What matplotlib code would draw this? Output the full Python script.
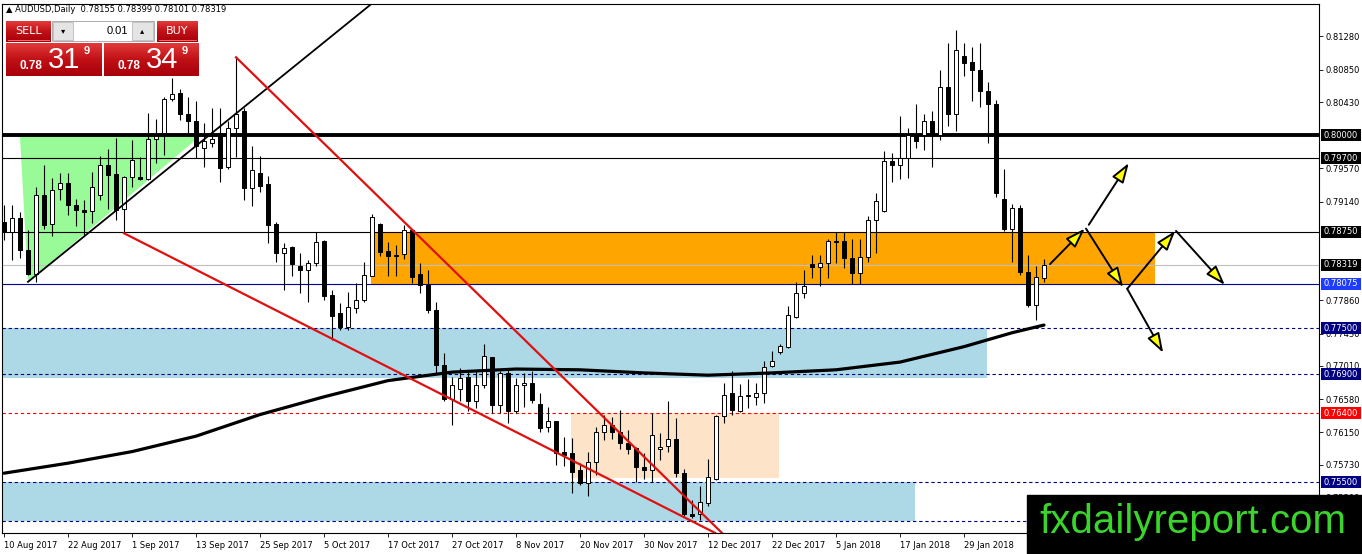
import numpy as np
import matplotlib
matplotlib.use('Agg')
import matplotlib.pyplot as plt
import matplotlib.transforms as mtransforms
from matplotlib.patches import Rectangle, Polygon, FancyArrowPatch
from matplotlib.colors import LinearSegmentedColormap

# AUDUSD diario - velas (ago/2017 a fev/2018)
datas = ['10 Aug 2017', '22 Aug 2017', '1 Sep 2017', '13 Sep 2017', '25 Sep 2017',
         '5 Oct 2017', '17 Oct 2017', '27 Oct 2017', '8 Nov 2017', '20 Nov 2017',
         '30 Nov 2017', '12 Dec 2017', '22 Dec 2017', '5 Jan 2018', '17 Jan 2018',
         '29 Jan 2018']

opens = [0.7887, 0.7874, 0.7893, 0.7851, 0.7820, 0.7923, 0.7885, 0.7930, 0.7938, 0.7910,
         0.7903, 0.7902, 0.7922, 0.7962, 0.7950, 0.7904, 0.7946, 0.7946, 0.7943, 0.7995,
         0.8003, 0.8047, 0.8055, 0.8028, 0.8019, 0.7984, 0.7990, 0.8003, 0.7959, 0.8010,
         0.8031, 0.7931, 0.7951, 0.7937, 0.7885, 0.7848, 0.7855, 0.7831, 0.7825, 0.7834,
         0.7863, 0.7793, 0.7769, 0.7751, 0.7776, 0.7786, 0.7818, 0.7885, 0.7850, 0.7845,
         0.7846, 0.7877, 0.7820, 0.7806, 0.7774, 0.7702, 0.7658, 0.7671, 0.7687, 0.7655,
         0.7676, 0.7712, 0.7650, 0.7692, 0.7643, 0.7676, 0.7679, 0.7652, 0.7622, 0.7630,
         0.7589, 0.7588, 0.7566, 0.7549, 0.7576, 0.7615, 0.7625, 0.7616, 0.7601, 0.7595,
         0.7570, 0.7566, 0.7593, 0.7597, 0.7606, 0.7562, 0.7509, 0.7509, 0.7524, 0.7555,
         0.7636, 0.7666, 0.7642, 0.7662, 0.7661, 0.7666, 0.7701, 0.7719, 0.7726, 0.7765,
         0.7796, 0.7833, 0.7829, 0.7834, 0.7863, 0.7863, 0.7841, 0.7822, 0.7842, 0.7890,
         0.7902, 0.7966, 0.7962, 0.7970, 0.8000, 0.8000, 0.8018, 0.8000, 0.8062, 0.8028,
         0.8103, 0.8095, 0.8084, 0.8057, 0.8041, 0.7918, 0.7879, 0.7906, 0.7823, 0.7780,
         0.78155]
highs = [0.7910, 0.7910, 0.7901, 0.7877, 0.7933, 0.7962, 0.7944, 0.7951, 0.7951, 0.7918,
         0.7916, 0.7953, 0.7973, 0.7982, 0.7996, 0.7947, 0.7994, 0.7972, 0.8029, 0.8021,
         0.8050, 0.8074, 0.8060, 0.8050, 0.8044, 0.8016, 0.8035, 0.8035, 0.8018, 0.8101,
         0.8035, 0.7986, 0.7973, 0.7947, 0.7887, 0.7860, 0.7856, 0.7847, 0.7838, 0.7875,
         0.7864, 0.7799, 0.7782, 0.7797, 0.7808, 0.7836, 0.7898, 0.7886, 0.7861, 0.7858,
         0.7884, 0.7878, 0.7834, 0.7825, 0.7784, 0.7718, 0.7687, 0.7698, 0.7696, 0.7696,
         0.7730, 0.7713, 0.7694, 0.7697, 0.7685, 0.7692, 0.7694, 0.7666, 0.7648, 0.7630,
         0.7609, 0.7607, 0.7575, 0.7590, 0.7622, 0.7637, 0.7635, 0.7644, 0.7618, 0.7596,
         0.7588, 0.7640, 0.7614, 0.7655, 0.7633, 0.7568, 0.7527, 0.7545, 0.7580, 0.7637,
         0.7679, 0.7694, 0.7678, 0.7684, 0.7679, 0.7707, 0.7720, 0.7730, 0.7779, 0.7810,
         0.7825, 0.7845, 0.7845, 0.7866, 0.7875, 0.7875, 0.7865, 0.7866, 0.7895, 0.7925,
         0.7980, 0.7977, 0.8025, 0.8009, 0.8041, 0.8028, 0.8032, 0.8085, 0.8120, 0.8137,
         0.8120, 0.8115, 0.8119, 0.8069, 0.8046, 0.7956, 0.7911, 0.7910, 0.7845, 0.7831,
         0.78399]
lows = [0.7864, 0.7838, 0.7841, 0.7819, 0.7810, 0.7879, 0.7869, 0.7916, 0.7897, 0.7882,
        0.7869, 0.7886, 0.7916, 0.7905, 0.7890, 0.7873, 0.7933, 0.7942, 0.7942, 0.7964,
        0.7974, 0.8044, 0.8020, 0.8000, 0.7970, 0.7959, 0.7985, 0.7940, 0.7956, 0.7972,
        0.7916, 0.7908, 0.7926, 0.7860, 0.7836, 0.7800, 0.7817, 0.7795, 0.7784, 0.7830,
        0.7787, 0.7735, 0.7747, 0.7748, 0.7769, 0.7784, 0.7817, 0.7843, 0.7818, 0.7818,
        0.7840, 0.7809, 0.7796, 0.7770, 0.7692, 0.7655, 0.7624, 0.7655, 0.7643, 0.7647,
        0.7672, 0.7640, 0.7640, 0.7627, 0.7640, 0.7648, 0.7653, 0.7616, 0.7616, 0.7573,
        0.7571, 0.7536, 0.7547, 0.7532, 0.7560, 0.7605, 0.7606, 0.7593, 0.7587, 0.7551,
        0.7555, 0.7551, 0.7579, 0.7590, 0.7557, 0.7506, 0.7504, 0.7501, 0.7519, 0.7553,
        0.7627, 0.7637, 0.7641, 0.7646, 0.7650, 0.7653, 0.7700, 0.7716, 0.7724, 0.7763,
        0.7789, 0.7815, 0.7805, 0.7815, 0.7835, 0.7828, 0.7807, 0.7807, 0.7836, 0.7848,
        0.7901, 0.7939, 0.7943, 0.7944, 0.7983, 0.7981, 0.7959, 0.7994, 0.8012, 0.8006,
        0.8077, 0.8044, 0.8036, 0.7990, 0.7920, 0.7876, 0.7836, 0.7819, 0.7777, 0.7761,
        0.78101]
closes = [0.7874, 0.7893, 0.7851, 0.7820, 0.7923, 0.7884, 0.7929, 0.7938, 0.7910, 0.7903,
          0.7901, 0.7933, 0.7962, 0.7949, 0.7903, 0.7946, 0.7968, 0.7943, 0.7995, 0.7999,
          0.8047, 0.8054, 0.8028, 0.8019, 0.7986, 0.7993, 0.7995, 0.7958, 0.8010, 0.8028,
          0.7931, 0.7955, 0.7934, 0.7884, 0.7848, 0.7854, 0.7833, 0.7825, 0.7834, 0.7861,
          0.7792, 0.7766, 0.7751, 0.7777, 0.7787, 0.7819, 0.7894, 0.7849, 0.7844, 0.7844,
          0.7877, 0.7816, 0.7806, 0.7774, 0.7702, 0.7658, 0.7676, 0.7686, 0.7655, 0.7676,
          0.7714, 0.7650, 0.7692, 0.7643, 0.7676, 0.7679, 0.7657, 0.7621, 0.7630, 0.7588,
          0.7586, 0.7563, 0.7549, 0.7576, 0.7615, 0.7625, 0.7615, 0.7601, 0.7594, 0.7570,
          0.7566, 0.7611, 0.7596, 0.7606, 0.7562, 0.7509, 0.7507, 0.7525, 0.7557, 0.7636,
          0.7664, 0.7644, 0.7662, 0.7663, 0.7666, 0.7700, 0.7708, 0.7727, 0.7767, 0.7796,
          0.7805, 0.7829, 0.7834, 0.7863, 0.7862, 0.7841, 0.7822, 0.7842, 0.7890, 0.7915,
          0.7966, 0.7962, 0.7970, 0.8000, 0.7993, 0.8018, 0.8000, 0.8062, 0.8028, 0.8111,
          0.8094, 0.8084, 0.8057, 0.8041, 0.7925, 0.7879, 0.7906, 0.7823, 0.7780, 0.7816,
          0.78319]

# media movel (linha preta grossa), lida em algumas barras
ma_barras = [0, 8, 16, 24, 32, 40, 48, 56, 64, 72, 80, 88, 96, 104, 112, 120, 126, 130]
ma_valores = [0.7562, 0.7575, 0.7590, 0.7610, 0.7638, 0.7661, 0.7682, 0.7693, 0.7697,
              0.7696, 0.7692, 0.7689, 0.7692, 0.7696, 0.7706, 0.7726, 0.7744, 0.7754]

# escala visivel (as que ficam por baixo das caixas foram tiradas)
escala_precos = [0.81280, 0.80850, 0.80430, 0.79570, 0.79140,
                 0.77860, 0.77430, 0.77010, 0.76580, 0.76150, 0.75730, 0.75300]

niveis_caixa = [0.80000, 0.79700, 0.78750, 0.78319, 0.78075, 0.77500, 0.76900, 0.76400, 0.75500]
cores_caixa = ['black', 'black', 'black', 'black', '#1e3cff', '#000080', '#000080', '#ff0000', '#000080']

titulo = '\u25b2 AUDUSD,Daily  0.78155 0.78399 0.78101 0.78319'

# objetos desenhados (barra, preco)
triangulo = [(2.0, 0.7998), (24.4, 0.7998), (3.0, 0.7810)]
linha_preta = [(3.0, 0.7810), (46.5, 0.8175)]
linha_verm_a = [(29.0, 0.8101), (89.75, 0.74845)]
linha_verm_b = [(15.0, 0.7873), (88.9, 0.74845)]
setas = [((130.75, 0.7833), (135.1, 0.7879)),
         ((135.6, 0.7884), (140.6, 0.7964)),
         ((135.25, 0.7879), (139.9, 0.7803)),
         ((140.4, 0.7801), (146.4, 0.7876)),
         ((140.4, 0.7801), (144.9, 0.7718)),
         ((146.5, 0.7876), (152.6, 0.7806))]

W, H = 1362, 554
fig = plt.figure(figsize=(W / 100, H / 100), dpi=100)
fig.patch.set_facecolor('white')
ax = fig.add_axes([2 / W, 21 / H, 1317 / W, 529 / H])
ax.set_xlim(-0.25, 164.375)
ax.set_ylim(0.74845, 0.81701)
ax.set_facecolor('white')
for s in ax.spines.values():
    s.set_linewidth(0.8)
    s.set_color('black')

# zonas
ax.add_patch(Rectangle((-1, 0.7686), 123.9, 0.0064, color='#add8e6', lw=0, zorder=1))
ax.add_patch(Rectangle((-1, 0.7500), 114.9, 0.0050, color='#add8e6', lw=0, zorder=1))
ax.add_patch(Rectangle((45.9, 0.78075), 98.0, 0.00675, color='#ffa500', lw=0, zorder=1))
ax.add_patch(Rectangle((70.9, 0.7556), 26.0, 0.0084, color='#fde3c7', lw=0, zorder=1))
ax.add_patch(Polygon(triangulo, closed=True, color='#98fb98', lw=0, zorder=1))

# linhas horizontais
ax.axhline(0.8000, color='black', lw=2.8, zorder=2)
ax.axhline(0.7970, color='black', lw=0.8, zorder=2)
ax.axhline(0.7875, color='black', lw=0.8, zorder=2)
ax.axhline(0.78319, color='#c0c0c0', lw=0.8, zorder=2)
ax.axhline(0.78075, color='#000099', lw=0.8, zorder=2)
for nivel in [0.7750, 0.7690, 0.7550, 0.7500]:
    ax.axhline(nivel, color='#000080', lw=0.8, ls=(0, (3, 2.5)), zorder=2)
ax.axhline(0.7640, color='#ff0000', lw=0.8, ls=(0, (3, 2.5)), zorder=2)

# velas
x = np.arange(len(opens))
o = np.array(opens)
c = np.array(closes)
ax.vlines(x, lows, highs, color='black', lw=0.8, zorder=3)
corpo_base = np.minimum(o, c)
corpo_alt = np.maximum(np.abs(c - o), 0.00004)
cores = ['white' if fc >= fo else 'black' for fo, fc in zip(o, c)]
ax.bar(x, corpo_alt, bottom=corpo_base, width=0.62, color=cores,
       edgecolor='black', linewidth=0.7, zorder=3.2)

# media movel e linhas de tendencia
ax.plot(ma_barras, ma_valores, color='black', lw=2.3, zorder=4, solid_capstyle='round')
ax.plot(*zip(*linha_preta), color='black', lw=1.3, zorder=4)
ax.plot(*zip(*linha_verm_a), color='#e01010', lw=1.6, zorder=4)
ax.plot(*zip(*linha_verm_b), color='#e01010', lw=1.6, zorder=4)

for ini, fim in setas:
    seta = FancyArrowPatch(ini, fim, arrowstyle='-|>,head_length=1.2,head_width=0.4',
                           mutation_scale=10, facecolor='#ffff00', edgecolor='black',
                           lw=1.4, zorder=6, shrinkA=0, shrinkB=0, clip_on=False)
    ax.add_patch(seta)

# eixo de precos a direita
ax.yaxis.tick_right()
ax.set_yticks(escala_precos)
ax.set_yticklabels(['%.5f' % v for v in escala_precos])
ax.tick_params(axis='y', length=3, width=0.6, pad=1.5, labelsize=6, colors='black')
ax.set_xticks(range(0, 8 * len(datas), 8))
ax.set_xticklabels(datas, ha='left')
ax.tick_params(axis='x', length=3, width=0.6, pad=2.5, labelsize=6, colors='black')

trans = mtransforms.blended_transform_factory(ax.transAxes, ax.transData)
for nivel, cor in zip(niveis_caixa, cores_caixa):
    ax.add_patch(Rectangle(((1321 - 2) / 1317, nivel - 0.00078), 40 / 1317, 0.00156,
                           transform=trans, color=cor, lw=0, clip_on=False, zorder=7))
    ax.text((1324 - 2) / 1317, nivel, '%.5f' % nivel, transform=trans, color='white',
            fontsize=6, va='center', ha='left', zorder=8, clip_on=False)

# painel por cima, em pixels
ov = fig.add_axes([0, 0, 1, 1], zorder=10)
ov.set_autoscale_on(False)
ov.set_xlim(0, W)
ov.set_ylim(H, 0)
ov.axis('off')
ov.patch.set_alpha(0)

ov.text(6, 10, titulo, fontsize=6, va='center', ha='left', color='black')

verm = LinearSegmentedColormap.from_list('verm', ['#e23a3a', '#c01016', '#a8000a'])
grad = np.linspace(0, 1, 40).reshape(-1, 1)
for x0, y0, x1, y1 in [(6, 21, 51, 42), (157, 21, 198, 42), (6, 43, 102, 76), (104, 43, 199, 76)]:
    ov.imshow(grad, extent=(x0, x1, y1, y0), cmap=verm, aspect='auto', zorder=11)
ov.plot([8, 49], [40, 40], color='#f08080', lw=0.6, zorder=12)
ov.plot([159, 196], [40, 40], color='#f08080', lw=0.6, zorder=12)
ov.text(28.5, 31, 'SELL', color='white', fontsize=8, ha='center', va='center', zorder=12)
ov.text(177.5, 31, 'BUY', color='white', fontsize=8, ha='center', va='center', zorder=12)

ov.add_patch(Rectangle((52, 21), 102, 20, facecolor='white', edgecolor='#a0a0a0', lw=0.6, zorder=11))
ov.add_patch(Rectangle((53, 22), 20, 18, facecolor='#e4e4e4', edgecolor='#b0b0b0', lw=0.5, zorder=12))
ov.add_patch(Rectangle((132, 22), 21, 18, facecolor='#e4e4e4', edgecolor='#b0b0b0', lw=0.5, zorder=12))
ov.text(63, 31, '\u25be', fontsize=6, ha='center', va='center', zorder=13)
ov.text(142.5, 31, '\u25b4', fontsize=6, ha='center', va='center', zorder=13)
ov.text(128, 31, '0.01', fontsize=8, ha='right', va='center', zorder=13, family='Liberation Sans')

for dx, grande in [(0, '31'), (98, '34')]:
    ov.text(20 + dx, 69, '0.78', color='white', fontsize=8.5, fontweight='bold',
            ha='left', va='baseline', zorder=12, family='Liberation Sans')
    ov.text(48 + dx, 68, grande, color='white', fontsize=21, ha='left', va='baseline',
            zorder=12, family='Liberation Sans')
    ov.text(84 + dx, 54, '9', color='white', fontsize=8, fontweight='bold', ha='left',
            va='baseline', zorder=12, family='Liberation Sans')

ov.add_patch(Rectangle((1027, 495), 335, 59, color='black', zorder=12))
ov.text(1193, 522, 'fxdailyreport.com', color='#3ad42c', fontsize=29, ha='center',
        va='center', family='Liberation Sans', zorder=13)

fig.savefig('out.png', dpi=100, facecolor='white')
